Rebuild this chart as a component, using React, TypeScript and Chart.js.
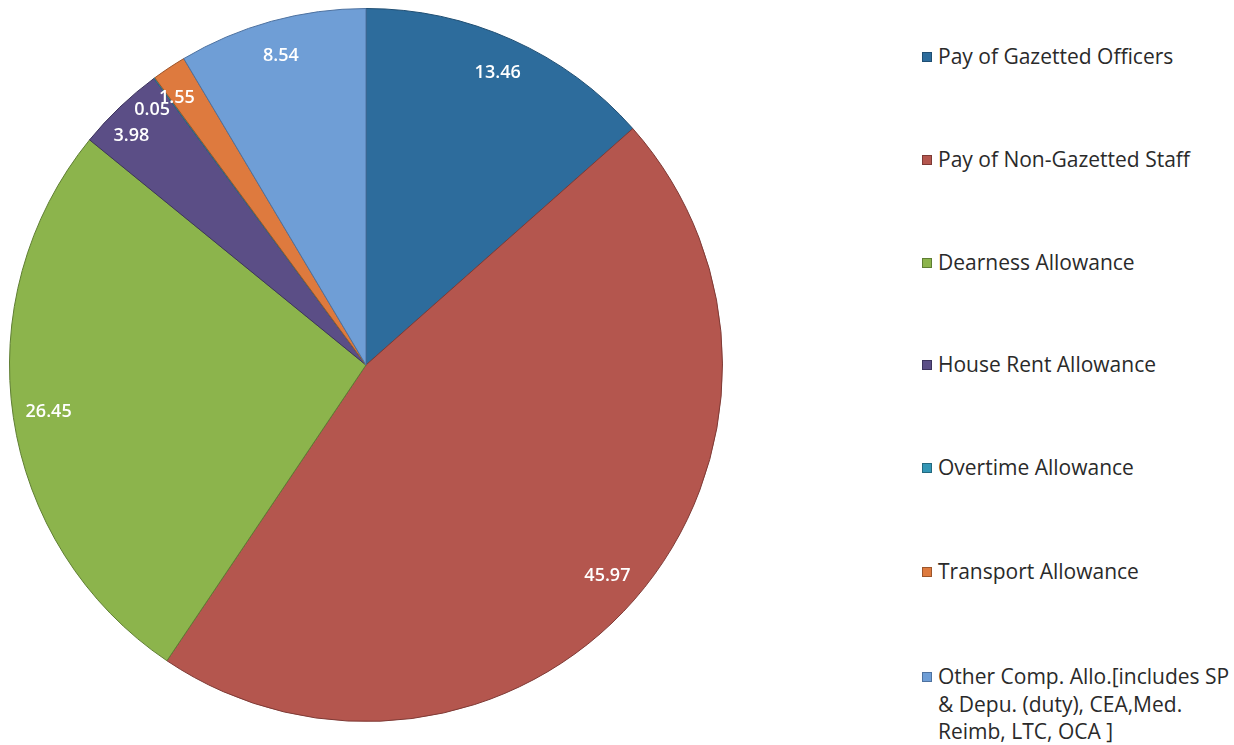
import React, { useEffect, useRef } from "react";
import { Chart, registerables } from "chart.js";

Chart.register(...registerables);

const categories = [
  "Pay of Gazetted Officers",
  "Pay of Non-Gazetted Staff",
  "Dearness Allowance",
  "House Rent Allowance",
  "Overtime Allowance",
  "Transport Allowance",
  "Other Comp. Allo.[includes SP & Depu. (duty), CEA,Med. Reimb, LTC, OCA ]",
];
const values = [13.46, 45.97, 26.45, 3.98, 0.05, 1.55, 8.54];
const valueLabels = ["13.46", "45.97", "26.45", "3.98", "0.05", "1.55", "8.54"];
const colors = ["#2D6C9C", "#B4564E", "#8CB44C", "#5B4E86", "#3396B5", "#DE7A3E", "#6F9ED6"];
const borders = ["#1F4E73", "#7E3A35", "#5F7E33", "#3C335C", "#23697F", "#9C552B", "#4E72A0"];

const labelPlugin = {
  id: "sliceLabels",
  afterDatasetsDraw(chart: any) {
    const ctx = chart.ctx;
    const meta = chart.getDatasetMeta(0);
    ctx.save();
    ctx.fillStyle = "#ffffff";
    ctx.font = "600 18px 'Open Sans', sans-serif";
    ctx.textAlign = "center";
    ctx.textBaseline = "middle";
    meta.data.forEach((arc: any, i: number) => {
      const p = arc.getProps(["x", "y", "startAngle", "endAngle", "outerRadius"], true);
      const mid = (p.startAngle + p.endAngle) / 2;
      let r = p.outerRadius * 0.9;
      let dx = 0;
      let dy = 0;
      if (i === 3) { r = p.outerRadius * 0.925; dx = -7; dy = 9; }
      if (i === 4) { r = p.outerRadius * 0.93; dx = -17; dy = 12; }
      if (i === 5) { r = p.outerRadius * 0.92; dx = -8; dy = 6; }
      const x = p.x + Math.cos(mid) * r + dx;
      const y = p.y + Math.sin(mid) * r + dy;
      ctx.fillText(valueLabels[i], x, y);
    });
    ctx.restore();
  },
};

const legendTops = [57, 160, 263, 365, 468, 572, 677];

export default function App() {
  const ref = useRef<HTMLCanvasElement | null>(null);

  useEffect(() => {
    document.body.style.margin = "0";
    const chart = new Chart(ref.current as HTMLCanvasElement, {
      type: "pie",
      data: {
        labels: categories,
        datasets: [
          {
            data: values,
            backgroundColor: colors,
            borderColor: borders,
            borderWidth: 1,
          },
        ],
      },
      options: {
        responsive: false,
        animation: false,
        layout: { padding: { left: 9, right: 9, top: 8, bottom: 23 } },
        plugins: {
          legend: { display: false },
          tooltip: { enabled: false },
        },
      },
      plugins: [labelPlugin],
    });
    return () => chart.destroy();
  }, []);

  return (
    <div style={{ position: "relative", width: 1234, height: 745, background: "#fff", overflow: "hidden" }}>
      <canvas ref={ref} width={732} height={745} style={{ position: "absolute", left: 0, top: 0 }} />
      {categories.map((c, i) => (
        <div
          key={c}
          style={{
            position: "absolute",
            left: 922,
            top: legendTops[i] - 14,
            width: 312,
            fontFamily: "'Open Sans', sans-serif",
            fontSize: 21,
            lineHeight: "27.5px",
            color: "#2a2a2a",
            display: "flex",
            alignItems: "flex-start",
          }}
        >
          <span
            style={{
              display: "inline-block",
              width: 8,
              height: 8,
              marginTop: 9,
              marginRight: 6,
              background: colors[i],
              border: `1px solid ${borders[i]}`,
              flex: "0 0 auto",
            }}
          />
          <span style={{ width: 296 }}>{c}</span>
        </div>
      ))}
    </div>
  );
}
